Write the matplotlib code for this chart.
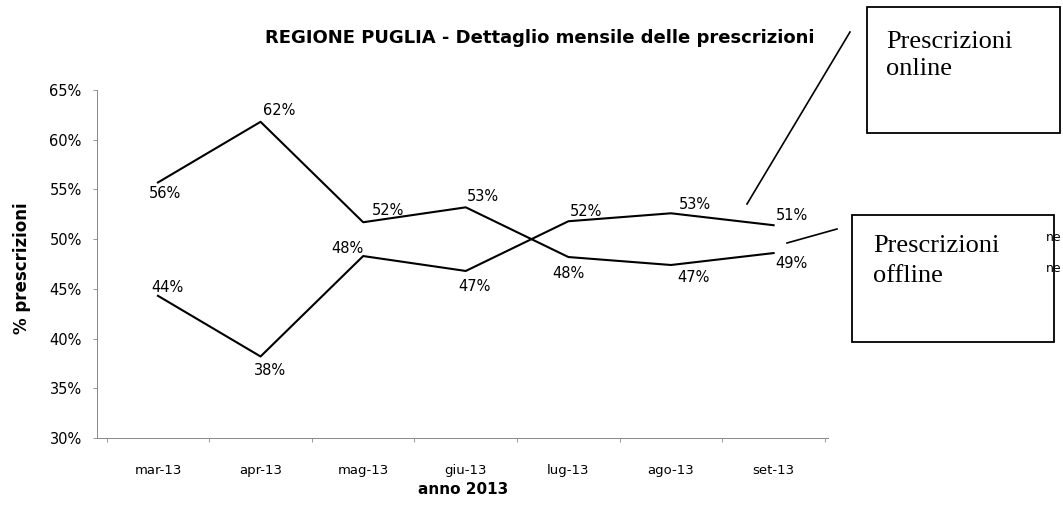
import matplotlib.pyplot as plt
import matplotlib.patches as patches
from matplotlib.lines import Line2D

plt.rcParams['font.family'] = ['DejaVu Sans']

mesi = ['mar-13', 'apr-13', 'mag-13', 'giu-13', 'lug-13', 'ago-13', 'set-13']
online = [44.3, 38.2, 48.3, 46.8, 51.8, 52.6, 51.4]
offline = [55.7, 61.8, 51.7, 53.2, 48.2, 47.4, 48.6]

# spostamento delle etichette in pixel (dx, dy)
off_online = [(9, 8), (9, -14), (-16, 8), (9, -16), (18, 10), (24, 9), (18, 10)]
off_offline = [(7, -11), (19, 11), (25, 12), (17, 11), (0, -16), (22, -13), (18, -10)]

W, H = 1063, 520
fig = plt.figure(figsize=(W / 100, H / 100), dpi=100)
ax = fig.add_axes([97 / W, 1 - 438 / H, (828 - 97) / W, (438 - 90) / H])

x = list(range(len(mesi)))
ax.plot(x, online, color='black', lw=1.5)
ax.plot(x, offline, color='black', lw=1.5)

for serie, spost in [(online, off_online), (offline, off_offline)]:
    for i, v in enumerate(serie):
        dx, dy = spost[i]
        ax.annotate('%d%%' % round(v), (i, v), xytext=(dx * 0.72, dy * 0.72),
                    textcoords='offset points', ha='center', va='center',
                    fontsize=10.5)

ax.set_xlim(-0.594, 6.53)
ax.set_ylim(30, 65)
ax.set_yticks(range(30, 66, 5))
ax.set_yticklabels(['%d%%' % t for t in range(30, 66, 5)], fontsize=10.5)
ax.set_xticks(x)
ax.set_xticklabels(mesi, fontsize=9.5)
ax.tick_params(axis='x', length=0, pad=19)
ax.tick_params(axis='y', length=3, color='#888888', width=0.6, pad=8)
ax.set_xticks([i + 0.5 for i in range(-1, 7)], minor=True)
ax.tick_params(axis='x', which='minor', length=3, color='#888888', width=0.6)
for s in ['top', 'right']:
    ax.spines[s].set_visible(False)
for s in ['left', 'bottom']:
    ax.spines[s].set_color('#888888')
    ax.spines[s].set_linewidth(0.7)
    ax.spines[s].set_linestyle((0, (2, 1)))

fig.text(540 / W, 1 - 38 / H, 'REGIONE PUGLIA - Dettaglio mensile delle prescrizioni',
         ha='center', va='center', fontsize=13, fontweight='bold')
fig.text(22 / W, 1 - 268 / H, '% prescrizioni', rotation=90, ha='center', va='center',
         fontsize=12, fontweight='bold')
fig.text(463 / W, 1 - 490 / H, 'anno 2013', ha='center', va='center',
         fontsize=11, fontweight='bold')

# riquadri di richiamo
box1 = patches.Rectangle((867 / W, 1 - 133 / H), 193 / W, 126 / H,
                         transform=fig.transFigure, fc='white', ec='black', lw=1.3)
box2 = patches.Rectangle((852 / W, 1 - 342 / H), 202 / W, 127 / H,
                         transform=fig.transFigure, fc='white', ec='black', lw=1.3)
fig.patches.extend([box1, box2])

serif = 'Liberation Serif'
fig.text(886 / W, 1 - 48 / H, 'Prescrizioni', ha='left', va='baseline', family=serif, fontsize=19)
fig.text(886 / W, 1 - 75 / H, 'online', ha='left', va='baseline', family=serif, fontsize=19)
fig.text(873 / W, 1 - 252 / H, 'Prescrizioni', ha='left', va='baseline', family=serif, fontsize=19)
fig.text(873 / W, 1 - 282 / H, 'offline', ha='left', va='baseline', family=serif, fontsize=19)

# frammenti della legenda che sporgono dal riquadro
fig.text(1046 / W, 1 - 238 / H, 'ne', fontsize=9, va='center', ha='left')
fig.text(1046 / W, 1 - 269 / H, 'ne', fontsize=9, va='center', ha='left')

fig.lines.append(Line2D([747 / W, 850 / W], [1 - 204 / H, 1 - 32 / H],
                        transform=fig.transFigure, color='black', lw=1.2))
fig.lines.append(Line2D([787 / W, 837 / W], [1 - 243 / H, 1 - 229 / H],
                        transform=fig.transFigure, color='black', lw=1.2))

fig.savefig('out.png', dpi=100)
